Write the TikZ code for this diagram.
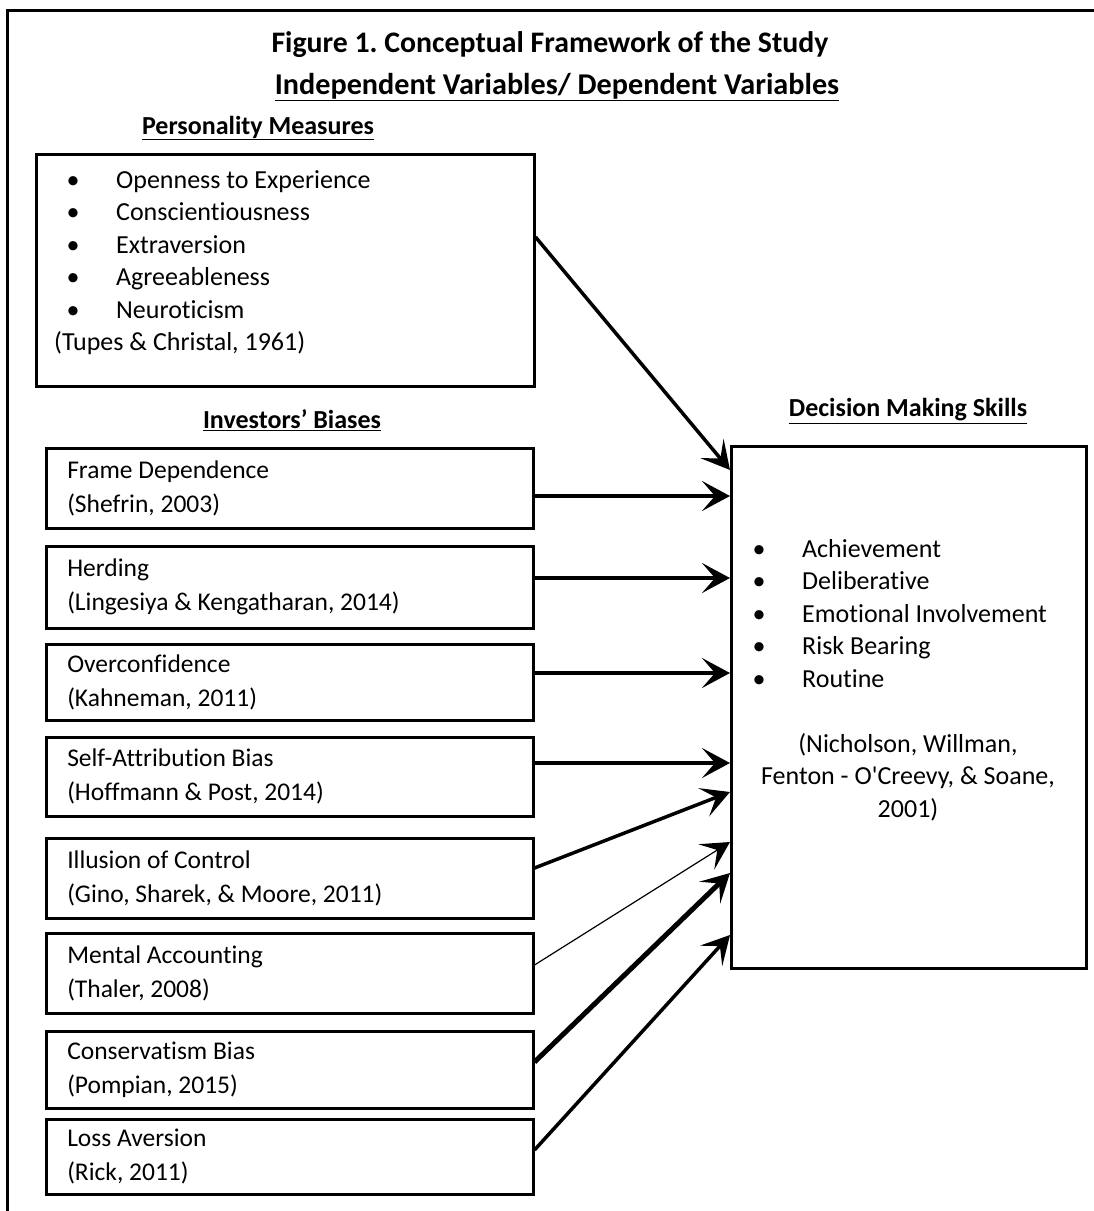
\documentclass[tikz,border=0pt]{standalone}
\usepackage{fontspec}
\setmainfont{Carlito}[Ligatures=CommonOff]
\usetikzlibrary{arrows.meta,positioning}
\frenchspacing
\tikzset{
    head/.style={font=\bfseries\fontsize{26}{30}\selectfont},
    bias/.style={draw,line width=2.5pt,anchor=north west,minimum width=487pt,minimum height=79pt,
        inner xsep=21pt,text width=445pt,align=flush left,font=\fontsize{25.5}{34}\selectfont},
    box/.style={draw,line width=2.5pt,anchor=north west},
    list/.style={anchor=north west,inner sep=0pt,align=left,font=\fontsize{26}{32.5}\selectfont},
    link/.style={line width=3.5pt,-{Stealth[length=28pt,width=30pt,inset=13pt]}}
}
\newcommand{\itm}{\makebox[38pt]{\textbullet}\hspace{24pt}}

\begin{document}
\begin{tikzpicture}[x=1pt,y=-1pt]
\useasboundingbox (0,0) rectangle (1094,1211);
\draw[line width=3pt] (7,1211) -- (7,10) -- (1094,10);

% headings
\node[head,font=\bfseries\fontsize{29.8}{32}\selectfont] (ttl) at (550,45) {Figure 1. Conceptual Framework of the Study};
\node[head,font=\bfseries\fontsize{30.2}{32}\selectfont] (sub) at (557,87) {\underline{Independent Variables/ Dependent Variables}};
\node[head] (pmh) at (258,128) {\underline{Personality Measures}};
\node[head] (ibh) at (292,420) {\underline{Investors’ Biases}};
\node[head] (dmh) at (908,411) {\underline{Decision Making Skills}};

% personality measures
\node[box,minimum width=498pt,minimum height=232pt] (pm) at (35,153) {};
\node[list] (pmlist) at (54,170) {\itm Openness to Experience\\ \itm Conscientiousness\\ \itm Extraversion\\
    \itm Agreeableness\\ \itm Neuroticism\\ (Tupes \& Christal, 1961)};

% decision making skills
\node[box,minimum width=355pt,minimum height=522pt] (dm) at (730,445) {};
\node[list] (dmlist) at (740,539) {\itm Achievement\\ \itm Deliberative\\ \itm Emotional Involvement\\
    \itm Risk Bearing\\ \itm Routine};
\node[list,anchor=north,align=center] (dmref) at (908,733) {(Nicholson, Willman,\\ Fenton - O\textquotesingle Creevy, \& Soane,\\ 2001)};

% investors' biases
\node[bias,minimum height=80pt] (fd) at (45,447) {Frame Dependence\\ (Shefrin, 2003)};
\node[bias,minimum height=82pt] (hd) at (45,545) {Herding\\ (Lingesiya \& Kengatharan, 2014)};
\node[bias,minimum height=76pt] (oc) at (45,643) {Overconfidence\\ (Kahneman, 2011)};
\node[bias] (sa) at (45,736) {Self-Attribution Bias\\ (Hoffmann \& Post, 2014)};
\node[bias,minimum height=80pt] (ic) at (45,837) {Illusion of Control\\ (Gino, Sharek, \& Moore, 2011)};
\node[bias,minimum height=80pt] (ma) at (45,932) {Mental Accounting\\ (Thaler, 2008)};
\node[bias,minimum height=77pt] (cb) at (45,1030) {Conservatism Bias\\ (Pompian, 2015)};
\node[bias,minimum height=75pt] (la) at (45,1118) {Loss Aversion\\ (Rick, 2011)};

% arrows
\draw[link] ([shift={(0,84)}]pm.north east) -- ([shift={(0,25)}]dm.north west);
\draw[link] ([shift={(0,49)}]fd.north east) -- ([shift={(0,51)}]dm.north west);
\draw[link] ([shift={(0,33)}]hd.north east) -- ([shift={(0,133)}]dm.north west);
\draw[link] ([shift={(0,30)}]oc.north east) -- ([shift={(0,228)}]dm.north west);
\draw[link] ([shift={(0,27)}]sa.north east) -- ([shift={(0,318)}]dm.north west);
\draw[link] ([shift={(0,31)}]ic.north east) -- ([shift={(0,347)}]dm.north west);
\draw[link,line width=1.2pt] ([shift={(0,33)}]ma.north east) -- ([shift={(0,397)}]dm.north west);
\draw[link,line width=5pt] ([shift={(0,32)}]cb.north east) -- ([shift={(0,428)}]dm.north west);
\draw[link] ([shift={(0,32)}]la.north east) -- ([shift={(0,490)}]dm.north west);
\end{tikzpicture}
\end{document}
